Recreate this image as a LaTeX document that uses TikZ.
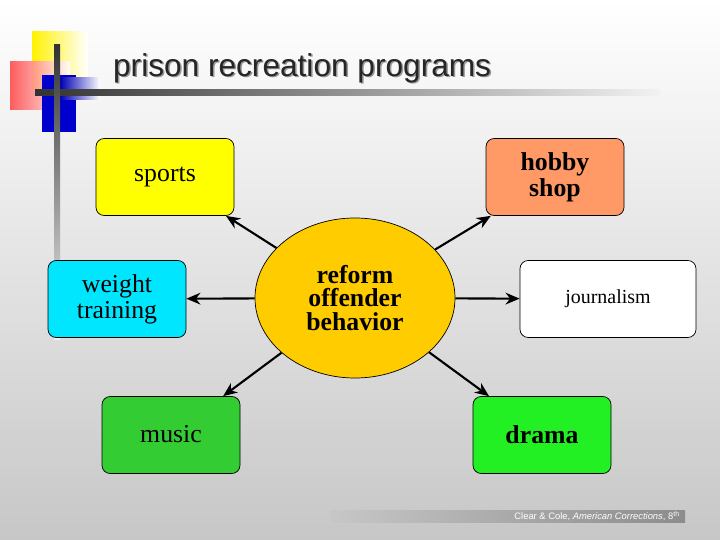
\documentclass[tikz,border=0pt]{standalone}
\usepackage{fontspec}
\setmainfont{Liberation Serif}
\newfontfamily\arial{Liberation Sans}
\usetikzlibrary{arrows.meta,shapes.geometric}
\definecolor{cyanbox}{RGB}{0,230,255}
\definecolor{hobbyc}{RGB}{255,153,102}
\definecolor{musicc}{RGB}{51,204,51}
\definecolor{dramac}{RGB}{34,240,34}
\definecolor{centerc}{RGB}{255,204,0}
\definecolor{sportsc}{RGB}{255,255,0}
\begin{document}
\begin{tikzpicture}[x=0.03cm,y=-0.03cm,
  box/.style={draw=black,line width=0.6pt,rounded corners=7pt,minimum width=138*0.03cm,minimum height=77*0.03cm,font=\bfseries\fontsize{22}{22}\selectfont,align=center,inner sep=0pt},
  reg/.style={font=\fontsize{22}{22}\selectfont},
  arr/.style={line width=1.8pt,-{Stealth[length=12pt,width=10pt]}}]
\useasboundingbox (0,0) rectangle (720,540);
\shade[top color=white,bottom color=white!78!black] (0,0) rectangle (720,540);
% decoration
\shade[left color=yellow!90!orange,right color=white] (32,32) rectangle (88,90);
\shade[left color=red!70,right color=white,opacity=0.9] (10,62) rectangle (70,110);
\fill[blue!80!black] (42,75) rectangle (76,132);
\shade[left color=blue!70!black,right color=white] (60,78) rectangle (100,100);
\shade[left color=black!80,right color=black!5] (35,90) rectangle (660,96);
\shade[top color=black!80,bottom color=black!5] (54,45) rectangle (60,340);
\node[anchor=west,font=\arial\fontsize{27}{27}\selectfont,text=black!40] at (110.5,69.5) {prison recreation programs};
\node[anchor=west,font=\arial\fontsize{27}{27}\selectfont,text=black!85] (title) at (109,68) {prison recreation programs};
% footer
\shade[left color=white!78!black,right color=black!45] (330,510) rectangle (685,522);
\node[anchor=east,font=\arial\fontsize{8}{8}\selectfont,text=white,inner sep=0pt] (foot) at (680,516) {Clear \& Cole, \textit{American Corrections}, 8\textsuperscript{th}};
% nodes
\node[box,reg,fill=sportsc] (sports) at (165,177) {};
\node[reg] (sportst) at (165,177) {sports};
\node[box,fill=hobbyc] (hobby) at (555,177) {hobby\\shop};
\node[box,reg,fill=cyanbox] (weight) at (117,299) {weight\\training};
\node[box,fill=white,minimum width=176*0.03cm,font=\fontsize{17}{17}\selectfont] (journ) at (608,299) {journalism};
\node[box,fill=musicc] (music) at (171,435) {};
\node[reg] (musict) at (171,434) {music};
\node[box,fill=dramac] (drama) at (542,435) {drama};
\node[ellipse,draw=black,line width=0.6pt,fill=centerc,minimum width=200*0.03cm,minimum height=160*0.03cm,font=\bfseries\fontsize{22}{20}\selectfont,align=center,inner sep=0pt] (c) at (355,298) {reform\\offender\\behavior};
% arrows
\draw[arr] (c) -- (sports);
\draw[arr] (c) -- (hobby);
\draw[arr] (c) -- (weight);
\draw[arr] (c) -- (journ);
\draw[arr] (c) -- (music);
\draw[arr] (c) -- (drama);
\end{tikzpicture}
\end{document}
